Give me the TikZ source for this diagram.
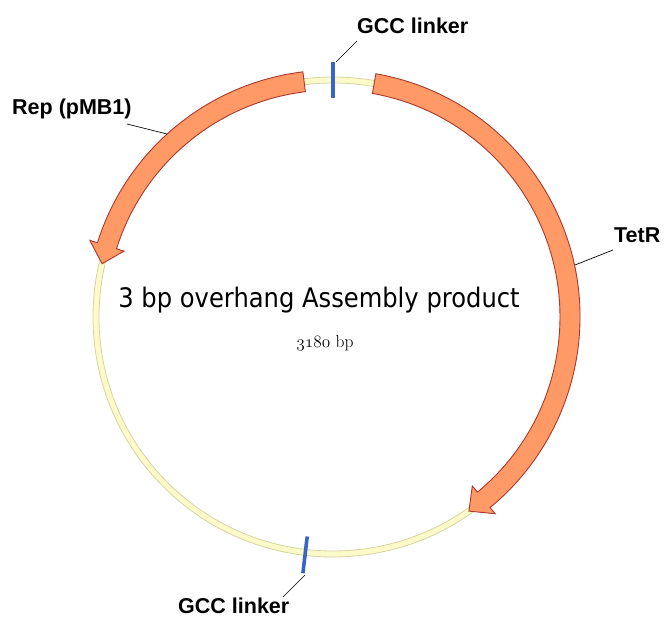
\documentclass[tikz,border=0pt]{standalone}
\usepackage{fontspec}
\newfontfamily\labelfont{Liberation Sans}
\newfontfamily\titlefont{DejaVu Sans}[FakeStretch=0.9]
\definecolor{featfill}{HTML}{FF9966}
\definecolor{featline}{HTML}{A83A2E}
\definecolor{bbfill}{HTML}{FBFAC8}
\definecolor{bbline}{HTML}{D6D4A2}
\definecolor{linkerblue}{HTML}{3A63C8}
\tikzset{
  feature/.style={fill=featfill, draw=featline, line width=0.9pt, line join=miter},
  backbone/.style={fill=bbfill, draw=bbline, line width=0.8pt, even odd rule},
  linker/.style={draw=linkerblue, line width=3.6pt},
  leader/.style={draw=black, line width=0.7pt},
  featlabel/.style={font=\labelfont\bfseries\fontsize{21.5}{24}\selectfont, inner sep=0pt, anchor=base west},
}
\begin{document}
\begin{tikzpicture}[x=1pt, y=1pt]
\useasboundingbox (0,0) rectangle (665,619);

\begin{scope}[shift={(333,302)}]
  % plasmid backbone ring
  \path[backbone] (0,0) circle[radius=240] (0,0) circle[radius=234];

  % TetR: clockwise from 80 deg, head tip at -55 deg
  \path[feature] (80:247) arc[start angle=80, end angle=-50.5, radius=247]
    -- (-50.5:255) -- (-55:237) -- (-50.5:219) -- (-50.5:227)
    arc[start angle=-50.5, end angle=80, radius=227] -- cycle;

  % Rep (pMB1): counter-clockwise from 97 deg, head tip at 167 deg
  \path[feature] (97:247) arc[start angle=97, end angle=162.5, radius=247]
    -- (162.5:255) -- (167:237) -- (162.5:219) -- (162.5:227)
    arc[start angle=162.5, end angle=97, radius=227] -- cycle;

  % GCC linker sites
  \draw[linker] (90:219) -- (90:255);
  \draw[linker] (263.3:221) -- (263.3:258);
\end{scope}

% labels
\node[featlabel] (gcctop) at (357,585) {GCC linker};
\node[featlabel] (rep) at (12,504) {Rep (pMB1)};
\node[featlabel] (tetr) at (614,376) {TetR};
\node[featlabel] (gccbot) at (178,5) {GCC linker};

\node[font=\titlefont\fontsize{26.9}{30}\selectfont, inner sep=0pt, anchor=base] (title) at (319,311) {3 bp overhang Assembly product};
\node[font=\fontsize{17.5}{20}\selectfont, inner sep=0pt, anchor=base] (size) at (325,271) {{\usefont{OML}{cmm}{m}{it}3180} bp};

% leader lines
\coordinate (gcctopEnd) at (357,578);
\coordinate (gcctopSite) at (336,557);
\coordinate (repEnd) at (127,495);
\coordinate (repSite) at (167,485);
\coordinate (tetrEnd) at (613,369);
\coordinate (tetrSite) at (575,354);
\coordinate (gccbotEnd) at (283,22);
\coordinate (gccbotSite) at (305,44);
\draw[leader] (gcctopSite) -- (gcctopEnd);
\draw[leader] (repSite) -- (repEnd);
\draw[leader] (tetrSite) -- (tetrEnd);
\draw[leader] (gccbotSite) -- (gccbotEnd);
\end{tikzpicture}
\end{document}
